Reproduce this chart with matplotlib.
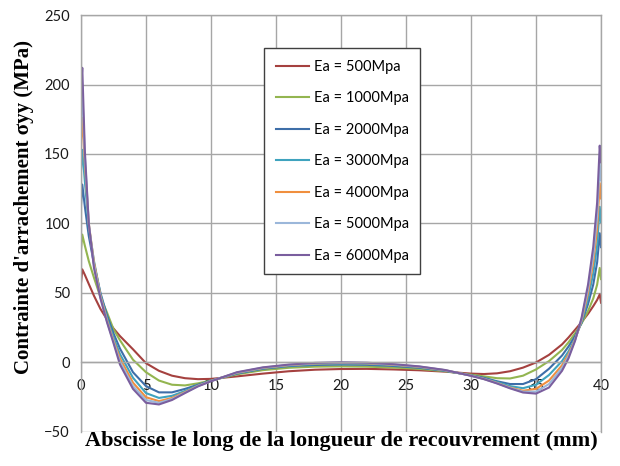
import matplotlib.pyplot as plt

x = [0, 0.1, 0.3, 0.6, 1, 1.5, 2, 2.5, 3, 4, 5, 6, 7, 8, 9, 10, 12, 14, 16, 18, 20,
     22, 24, 26, 28, 30, 31, 32, 33, 34, 35, 36, 37, 37.5, 38, 38.5, 39, 39.4, 39.7, 39.9, 40]

ea_500 = [57, 67, 63, 56.5, 48, 38.5, 31, 24.5, 19, 9.5, -0.5, -6, -9.5, -11.3, -12, -11.8, -10, -8, -6.3, -5.2, -4.7,
          -4.6, -5, -5.6, -6.6, -8, -8.3, -7.8, -6.3, -3.7, 0, 5.5, 13, 18, 23.5, 29, 35, 40.5, 45, 49, 43]
ea_1000 = [81, 92, 84, 73, 61, 47, 36, 24, 16, 2, -7, -13, -16, -16.5, -15, -13, -8.5, -5.5, -3.8, -3, -2.8,
           -3, -3.6, -4.6, -6.3, -8.8, -10, -11.3, -11.5, -9.5, -5, 1, 9, 14.5, 21, 28, 37, 46, 56, 68, 60]
ea_2000 = [113, 128, 112, 91, 71, 50, 34, 21, 10, -7, -17, -21.5, -21.5, -19, -16, -13, -8, -4.5, -2.6, -1.8, -1.5,
           -1.7, -2.5, -3.8, -6, -9.2, -11, -13.5, -15.5, -15.5, -12, -4.5, 5, 11.5, 19, 28.5, 42, 56, 72, 93, 83]
ea_3000 = [138, 153, 130, 98, 73, 49, 32, 18, 6, -11, -22, -25.5, -24, -20.5, -16.5, -13.2, -7.7, -4.2, -2.2, -1.1, -0.8,
           -1, -1.9, -3.4, -5.8, -9.3, -11.5, -14.2, -17, -18.5, -16, -9, 1, 8, 17, 29, 46, 64, 84, 112, 101]
ea_4000 = [160, 176, 143, 100, 72, 48, 30.5, 16, 3, -14.5, -25, -27.8, -25.5, -21.3, -16.8, -13.3, -7.4, -3.9, -1.9, -0.7, -0.4,
           -0.6, -1.6, -3.1, -5.6, -9.4, -11.8, -14.7, -18, -20.3, -19, -13, -2, 6, 16.5, 30, 50, 72, 96, 129, 118]
ea_5000 = [178, 194, 148, 100, 70, 47, 29.5, 15, 0.5, -17, -27, -29, -26.3, -21.7, -17, -13.4, -7.2, -3.7, -1.7, -0.5, -0.1,
           -0.4, -1.4, -2.9, -5.5, -9.5, -11.9, -14.9, -18.3, -21, -21, -15.5, -4, 4.5, 16, 31, 53, 77, 105, 143, 131]
ea_6000 = [196, 212, 152, 100, 68, 46, 29, 14, -1.5, -19, -29, -30.2, -27, -22, -17.2, -13.5, -7, -3.5, -1.5, -0.3, 0.1,
           -0.2, -1.2, -2.8, -5.4, -9.6, -12, -15.1, -18.6, -21.6, -22.4, -18, -6, 3, 15.5, 32, 56, 83, 115, 156, 144]

series = [ea_500, ea_1000, ea_2000, ea_3000, ea_4000, ea_5000, ea_6000]
labels = ["Ea = 500Mpa", "Ea = 1000Mpa", "Ea = 2000Mpa", "Ea = 3000Mpa",
          "Ea = 4000Mpa", "Ea = 5000Mpa", "Ea = 6000Mpa"]
colors = ["#A5413F", "#93B550", "#3E6EA8", "#3FA3BE", "#F08F3E", "#9BB7DA", "#7A5E9E"]

grid_col = "#a6a6a6"

fig = plt.figure(figsize=(6.2, 4.66), dpi=100)
ax = fig.add_axes([0.1306, 0.073, 0.8388, 0.8948])

for y, lab, c in zip(series, labels, colors):
    ax.plot(x, y, color=c, lw=1.5, label=lab)

ax.set_xlim(0, 40)
ax.set_ylim(-50, 250)
ax.set_xticks(range(0, 41, 5))
ax.set_yticks(range(-50, 251, 50))
ax.grid(True, color=grid_col, lw=1)
ax.set_axisbelow(True)

for s in ax.spines.values():
    s.set_color(grid_col)
    s.set_linewidth(1)
ax.spines["bottom"].set_position(("data", 0))
ax.tick_params(length=0, labelsize=10.5, colors="#1a1a1a")
ax.tick_params(axis="x", pad=12)
ax.tick_params(axis="y", pad=8)
for t in ax.get_xticklabels() + ax.get_yticklabels():
    t.set_fontfamily("Lato")

ax.text(0.5, -0.022, "Abscisse le long de la longueur de recouvrement (mm)",
        transform=ax.transAxes, ha="center", va="center",
        fontfamily="Liberation Serif", fontweight="bold", fontsize=16)
ax.set_ylabel("Contrainte d'arrachement σyy (MPa)", fontfamily="Liberation Serif",
              fontweight="bold", fontsize=15)
ax.yaxis.set_label_coords(-0.09, 0.54)

leg = ax.legend(loc="upper left", bbox_to_anchor=(0.352, 0.921), borderaxespad=0,
                fancybox=False, framealpha=1, edgecolor="#404040",
                prop={"family": "Lato", "size": 10.5}, labelspacing=1.2,
                handlelength=2.3, handletextpad=0.3, borderpad=0.8)
leg.get_frame().set_linewidth(1)

fig.savefig("out.png", dpi=100)
